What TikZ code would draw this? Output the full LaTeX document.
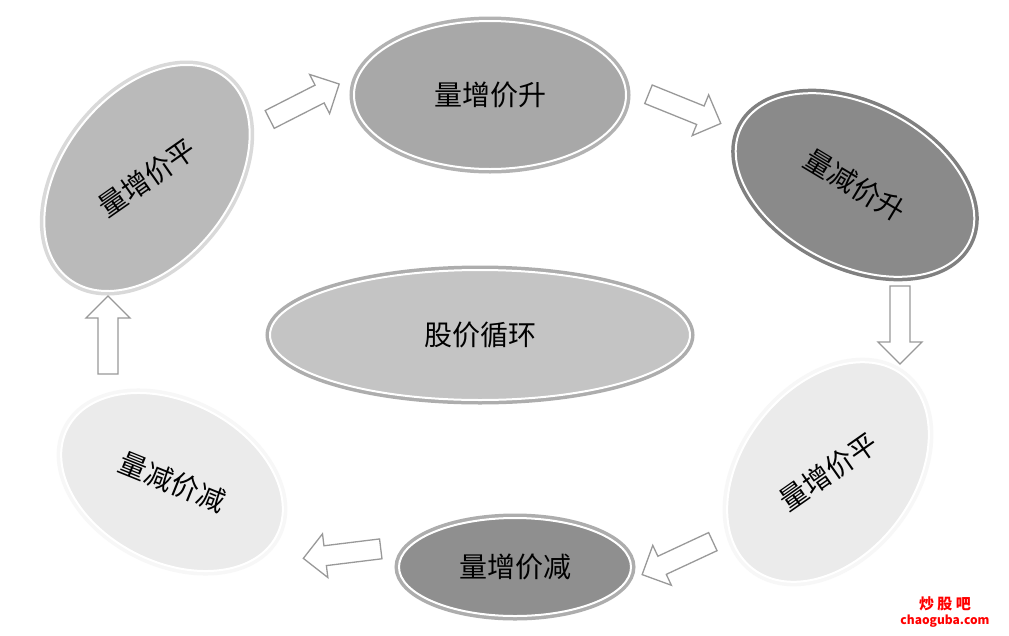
\documentclass[tikz,border=0pt]{standalone}
\usepackage{fontspec}
\setmainfont{Noto Sans CJK SC}
\usetikzlibrary{shapes.geometric,shapes.arrows}
\begin{document}
\begin{tikzpicture}[x=1pt,y=-1pt,
  ell/.style n args={4}{ellipse, minimum width=#1, minimum height=#2, fill=#3, draw=white, line width=2pt, preaction={draw=#4, line width=9pt}, inner sep=0pt, font=\fontsize{28}{28}\selectfont},
  blk/.style={single arrow, draw=gray!80, fill=white, line width=1.3pt, minimum height=78pt, minimum width=44pt, single arrow head extend=8pt, inner sep=6pt}]
\useasboundingbox (0,0) rectangle (1009,635);
\fill[white] (0,0) rectangle (1009,635);
\node[ell={272pt}{148pt}{black!34}{black!30}] (a) at (490,95) {量增价升};
\node[ell={255pt}{160pt}{black!46}{black!50}, rotate=-27] (b) at (855,185) {\rotatebox{-4}{量减价升}};
\node[ell={255pt}{168pt}{black!27}{black!15}, rotate=52] (c) at (147,178) {\rotatebox{-17}{量增价平}};
\node[ell={420pt}{130pt}{black!23}{black!32}] (d) at (480,335) {股价循环};
\node[ell={245pt}{170pt}{black!8}{black!3}, rotate=52] (e) at (828,472) {\rotatebox{-17}{量增价平}};
\node[ell={235pt}{160pt}{black!8}{black!3}, rotate=-27] (f) at (172,482) {\rotatebox{5}{量减价减}};
\node[ell={232pt}{98pt}{black!44}{black!32}] (g) at (515,567) {量增价减};
\node[blk, rotate=27] (a1) at (300,104) {};
\node[blk, rotate=-22] (a2) at (680,107) {};
\node[blk, rotate=-90] (a3) at (900,320) {};
\node[blk, rotate=205] (a4) at (682,556) {};
\node[blk, rotate=187] (a5) at (347,553) {};
\node[blk, rotate=90] (a6) at (108,340) {};
\node[text=red, font=\bfseries\fontsize{15}{15}\selectfont] (w1) at (945,604) {炒 股 吧};
\node[text=red, font=\bfseries\fontsize{12}{12}\selectfont] (w2) at (945,621) {chaoguba.com};
\end{tikzpicture}
\end{document}
